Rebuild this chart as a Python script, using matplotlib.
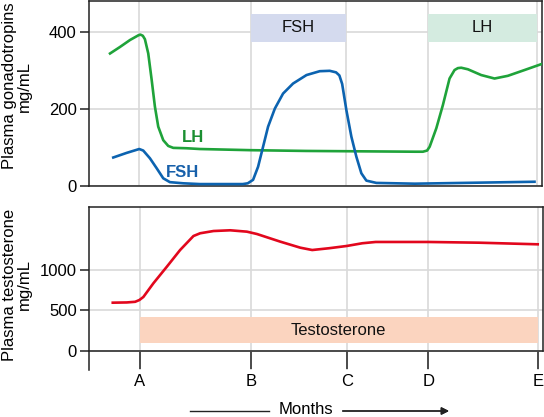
import matplotlib
matplotlib.use("Agg")
import matplotlib.pyplot as plt
from matplotlib.lines import Line2D

plt.rcParams['font.family'] = ['Liberation Sans', 'DejaVu Sans']

# time axis (A = 1, B = 2, rest)
month_labels = ["A", "B", "C", "D", "E"]
month_pos = [1.0, 2.0, 2.862, 3.594, 4.577]

# LH (green)
lh_t = [0.735, 0.825, 0.915, 0.989, 1.008, 1.030, 1.049, 1.079, 1.110, 1.139,
        1.169, 1.214, 1.259, 1.304, 1.424, 1.544, 2.0, 2.5, 3.0, 3.478,
        3.552, 3.590, 3.613, 3.673, 3.732, 3.792, 3.837, 3.867, 3.897, 3.957,
        4.077, 4.197, 4.317, 4.467, 4.615]
lh_v = [344, 361, 379, 391, 393, 390, 381, 344, 275, 206,
        154, 119, 104, 99, 98, 96, 93, 91, 90, 89,
        89, 92, 102, 150, 210, 279, 301, 306, 307, 303,
        288, 279, 286, 301, 316]

# FSH (blue)
fsh_t = [0.764, 0.885, 0.998, 1.034, 1.094, 1.155, 1.214, 1.274, 1.394, 1.544,
         1.930, 1.975, 2.023, 2.068, 2.113, 2.158, 2.219, 2.293, 2.383, 2.504,
         2.623, 2.713, 2.770, 2.800, 2.825, 2.863, 2.908, 2.953, 2.998, 3.043,
         3.133, 3.478, 4.557]
fsh_v = [74, 86, 96, 92, 72, 46, 20, 10, 7, 5,
         5, 7, 16, 50, 102, 154, 201, 240, 266, 288,
         298, 299, 295, 287, 265, 197, 128, 76, 33, 14,
         8, 6, 11]

# testosterone (red)
tes_t = [0.759, 0.885, 0.960, 0.998, 1.034, 1.124, 1.245, 1.364, 1.484, 1.544,
         1.664, 1.814, 1.964, 2.054, 2.264, 2.444, 2.551, 2.701, 2.860, 3.001,
         3.121, 3.451, 3.594, 4.050, 4.577]
tes_v = [594, 597, 605, 627, 665, 835, 1041, 1248, 1422, 1456,
         1484, 1493, 1476, 1447, 1352, 1277, 1248, 1270, 1298, 1332,
         1348, 1348, 1348, 1339, 1319]

# treatment bars: (label, start, end, low, high, colour)
top_boxes = [("FSH", 2.0, 2.862, 374, 447, "#d4daee"),
             ("LH", 3.594, 4.575, 374, 447, "#d4ebe0")]
tes_box = ("Testosterone", 1.0, 4.577, 90, 410, "#fbd4bf")

green = "#1fa33a"
blue = "#0c63b0"
red = "#e2071d"
dark = "#222222"
grid_c = "#d9d9d9"
fs = 12

W, H = 544, 417
fig = plt.figure(figsize=(W / 100, H / 100), dpi=100)

ax1 = fig.add_axes([88.5 / W, 1 - 186 / H, 453 / W, 185.3 / H])
ax2 = fig.add_axes([88.5 / W, 1 - 370 / H, 454 / W, 163.3 / H])

# ---- top panel: gonadotropins
ax1.set_xlim(0.541, 4.62)
ax1.set_ylim(0, 481)
ax1.set_axisbelow(True)
ax1.set_xticks(month_pos)
ax1.set_yticks([0, 200, 400])
ax1.tick_params(axis='x', length=0, labelbottom=False)
ax1.tick_params(axis='y', length=6.5, width=1.1, color=dark, labelsize=fs, pad=2)
ax1.grid(True, color=grid_c, lw=1.2)
for name, x0, x1, y0, y1, c in top_boxes:
    ax1.fill_between([x0, x1], y0, y1, color=c, lw=0, zorder=1)
    ax1.text((x0 + x1) / 2, (y0 + y1) / 2, name, ha='center', va='center',
             fontsize=fs, color="#111111", zorder=2)
ax1.plot(lh_t, lh_v, color=green, lw=1.9, zorder=3, solid_joinstyle='round')
ax1.plot(fsh_t, fsh_v, color=blue, lw=1.9, zorder=3, solid_joinstyle='round')
ax1.text(1.38, 126, "LH", color="#1b8f31", fontsize=12, fontweight='bold',
         ha='left', va='center')
ax1.text(1.238, 36, "FSH", color="#1760aa", fontsize=12, fontweight='bold',
         ha='left', va='center')
for s in ax1.spines.values():
    s.set_color(dark)
    s.set_linewidth(1.1)

# ---- bottom panel: testosterone
ax2.set_xlim(0.541, 4.62)
ax2.set_ylim(-242, 1786)
ax2.set_axisbelow(True)
ax2.set_xticks(month_pos)
ax2.set_xticklabels(month_labels)
ax2.set_yticks([0, 500, 1000])
ax2.tick_params(axis='x', length=13, width=1.1, color=dark, labelsize=fs, pad=4)
ax2.tick_params(axis='y', length=6.5, width=1.1, color=dark, labelsize=fs, pad=2)
ax2.grid(True, color=grid_c, lw=1.2)
name, x0, x1, y0, y1, c = tes_box
ax2.fill_between([x0, x1], y0, y1, color=c, lw=0, zorder=1)
ax2.text((x0 + x1) / 2, (y0 + y1) / 2, name, ha='center', va='center',
         fontsize=fs, color="#111111", zorder=2)
ax2.plot(tes_t, tes_v, color=red, lw=1.9, zorder=3, solid_joinstyle='round')
ax2.spines['bottom'].set_position(('data', 0))
ax2.spines['right'].set_bounds(0, 1786)
for s in ax2.spines.values():
    s.set_color(dark)
    s.set_linewidth(1.1)

# y labels
fig.text(17 / W, 1 - 86 / H, "Plasma gonadotropins\nmg/mL", rotation=90,
         ha='center', va='center', multialignment='center', fontsize=fs,
         linespacing=1.05)
fig.text(17 / W, 1 - 285 / H, "Plasma testosterone\nmg/mL", rotation=90,
         ha='center', va='center', multialignment='center', fontsize=fs,
         linespacing=1.05)

# Months arrow
yy = 1 - 411 / H
fig.text(306 / W, 1 - 409 / H, "Months", ha='center', va='center', fontsize=fs)
fig.add_artist(Line2D([190 / W, 269 / W], [yy, yy], color=dark, lw=1.0))
fig.add_artist(plt.annotate("", xy=(449 / W, yy), xytext=(342.7 / W, yy),
                            xycoords='figure fraction',
                            arrowprops=dict(arrowstyle='-|>', color=dark, lw=1.0,
                                            mutation_scale=11, shrinkA=0, shrinkB=0)))

fig.savefig("out.png", dpi=100)
